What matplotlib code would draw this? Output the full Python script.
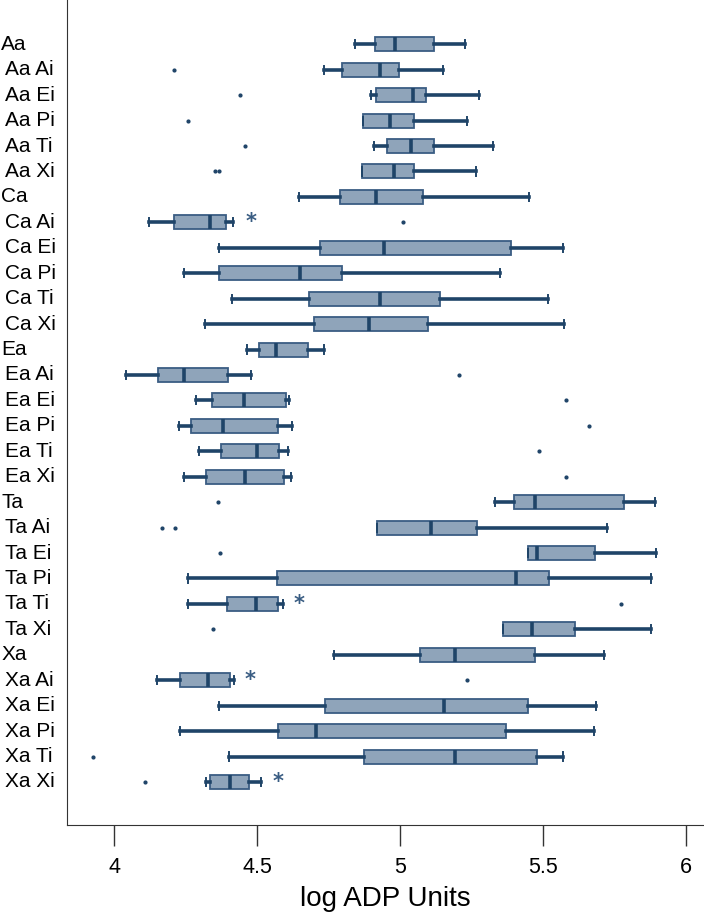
import matplotlib
matplotlib.use("Agg")
import matplotlib.pyplot as plt
from matplotlib.transforms import blended_transform_factory

LABELS = ["Aa", "Aa Ai", "Aa Ei", "Aa Pi", "Aa Ti", "Aa Xi",
          "Ca", "Ca Ai", "Ca Ei", "Ca Pi", "Ca Ti", "Ca Xi",
          "Ea", "Ea Ai", "Ea Ei", "Ea Pi", "Ea Ti", "Ea Xi",
          "Ta", "Ta Ai", "Ta Ei", "Ta Pi", "Ta Ti", "Ta Xi",
          "Xa", "Xa Ai", "Xa Ei", "Xa Pi", "Xa Ti", "Xa Xi"]

WHIS_LO = [4.843, 4.734, 4.898, 4.871, 4.908, 4.867,
           4.647, 4.122, 4.367, 4.245, 4.412, 4.318,
           4.466, 4.041, 4.288, 4.226, 4.298, 4.246,
           5.334, 4.918, 5.447, 4.257, 4.259, 5.362,
           4.770, 4.150, 4.367, 4.230, 4.401, 4.321]
Q1 = [4.914, 4.796, 4.917, 4.871, 4.956, 4.867,
      4.792, 4.208, 4.719, 4.368, 4.683, 4.701,
      4.508, 4.155, 4.342, 4.270, 4.375, 4.321,
      5.398, 4.918, 5.447, 4.571, 4.395, 5.362,
      5.071, 4.229, 4.737, 4.574, 4.875, 4.335]
MED = [4.981, 4.929, 5.044, 4.966, 5.038, 4.978,
       4.917, 4.334, 4.945, 4.652, 4.929, 4.890,
       4.566, 4.245, 4.453, 4.381, 4.500, 4.459,
       5.472, 5.108, 5.478, 5.406, 4.498, 5.462,
       5.193, 4.329, 5.154, 4.708, 5.193, 4.406]
Q3 = [5.118, 4.995, 5.092, 5.049, 5.119, 5.049,
      5.080, 4.392, 5.387, 4.799, 5.139, 5.099,
      4.679, 4.397, 4.602, 4.574, 4.577, 4.594,
      5.782, 5.268, 5.683, 5.522, 4.574, 5.611,
      5.473, 4.406, 5.448, 5.370, 5.478, 4.473]
WHIS_HI = [5.227, 5.152, 5.277, 5.235, 5.326, 5.266,
           5.451, 4.415, 5.571, 5.350, 5.517, 5.575,
           4.734, 4.478, 4.613, 4.624, 4.608, 4.618,
           5.892, 5.724, 5.897, 5.879, 4.591, 5.879,
           5.713, 4.418, 5.685, 5.679, 5.571, 4.514]
OUTLIERS = [[], [4.210], [4.440], [4.260], [4.459], [4.353, 4.367],
            [], [5.009], [], [], [], [],
            [], [5.205], [5.580], [5.660], [5.487], [5.581],
            [4.362], [4.168, 4.213], [4.371], [], [5.773], [4.346],
            [], [5.234], [], [], [3.928], [4.107]]
# groups marked with an asterisk, and where the mark sits
STAR_ROWS = [7, 22, 25, 29]
STAR_X = [4.478, 4.647, 4.475, 4.574]

FILL = "#8fa4ba"
EDGE = "#3a5d83"
DARK = "#1f4468"

fig = plt.figure(figsize=(7.04, 9.14), dpi=100)
ax = fig.add_axes([0.095, 0.0974, 0.9036, 0.9026])

stats = []
for i, lab in enumerate(LABELS):
    stats.append({"label": lab, "whislo": WHIS_LO[i], "q1": Q1[i], "med": MED[i],
                  "q3": Q3[i], "whishi": WHIS_HI[i], "fliers": OUTLIERS[i]})

ax.bxp(stats, positions=list(range(len(LABELS))), vert=False, widths=0.55,
       patch_artist=True, showfliers=True,
       boxprops=dict(facecolor=FILL, edgecolor=EDGE, linewidth=1.3),
       whiskerprops=dict(color=DARK, linewidth=2.6),
       capprops=dict(color=DARK, linewidth=1.4),
       capwidths=0.32,
       medianprops=dict(color=DARK, linewidth=2.6),
       flierprops=dict(marker="o", markersize=2.0, markerfacecolor=DARK,
                       markeredgecolor=DARK, linestyle="none"),
       zorder=3)

for r, x in zip(STAR_ROWS, STAR_X):
    ax.text(x, r, "*", ha="center", va="center", fontsize=15, color=EDGE,
            fontweight="bold")

ax.set_ylim(30.69, -1.74)
ax.set_xlim(3.835, 6.06)
ax.set_yticks([])
ax.set_xticks([4, 4.5, 5, 5.5, 6])
ax.set_xticklabels(["4", "4.5", "5", "5.5", "6"])

font = ["Liberation Sans", "DejaVu Sans"]
ax.tick_params(axis="x", direction="out", length=15, width=1, pad=8,
               labelsize=15.5, color="#333333")
for t in ax.get_xticklabels():
    t.set_family(font)
ax.set_xlabel("log ADP Units", fontsize=20, family=font, labelpad=6)

for s in ["top", "right"]:
    ax.spines[s].set_visible(False)
ax.spines["left"].set_color("#333333")
ax.spines["bottom"].set_color("#333333")

trans = blended_transform_factory(fig.transFigure, ax.transData)
for i, lab in enumerate(LABELS):
    xoff = 0.0015 if " " not in lab else 0.007
    ax.text(xoff, i, lab, transform=trans, ha="left", va="center",
            fontsize=15, family=font, clip_on=False)

fig.savefig("out.png", dpi=100)
